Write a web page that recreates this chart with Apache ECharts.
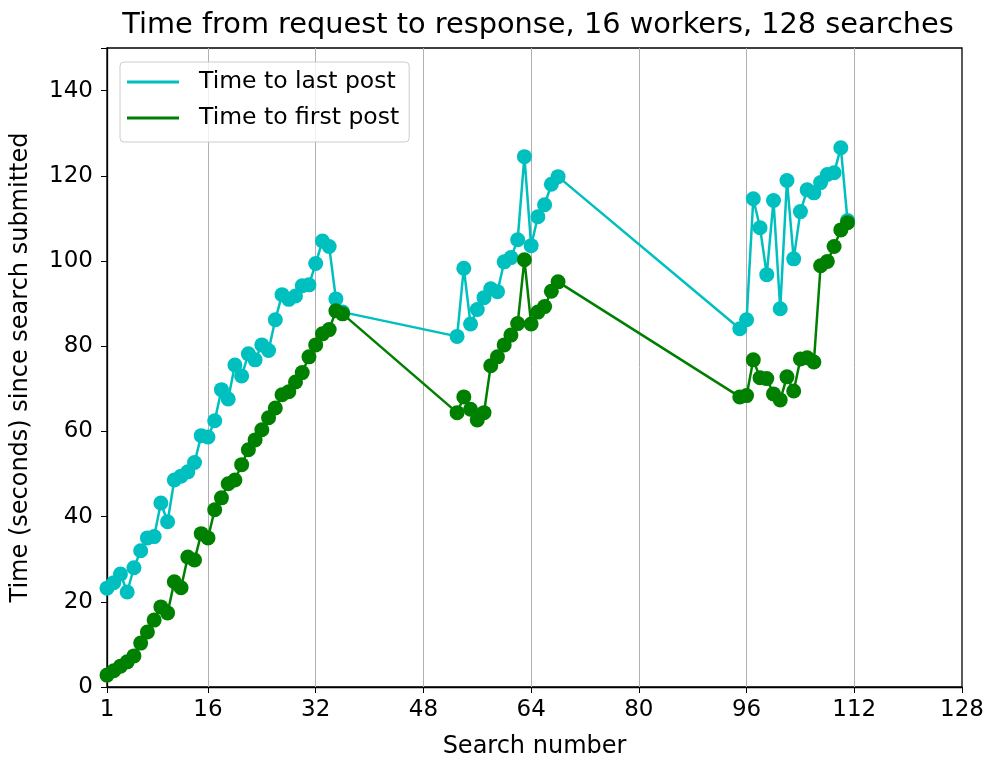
<!DOCTYPE html>
<html>
<head>
<meta charset="utf-8">
<script src="https://cdn.jsdelivr.net/npm/echarts@6/dist/echarts.min.js"></script>
<style>
  html, body { margin: 0; padding: 0; background: #fff; }
  #chart { width: 988px; height: 761px; }
</style>
</head>
<body>
<div id="chart"></div>
<script>
// Search numbers that produced a result, in three batches
const searchNumbers = [
  1, 2, 3, 4, 5, 6, 7, 8, 9, 10, 11, 12, 13, 14, 15, 16, 17, 18,
  19, 20, 21, 22, 23, 24, 25, 26, 27, 28, 29, 30, 31, 32, 33, 34, 35, 36,
  53, 54, 55, 56, 57, 58, 59, 60, 61, 62, 63, 64, 65, 66, 67, 68,
  95, 96, 97, 98, 99, 100, 101, 102, 103, 104, 105, 106, 107, 108, 109, 110, 111
];

// Seconds from submission until the last post arrived
const lastPost = [
  23.2, 24.5, 26.5, 22.3, 28.0, 32.0, 35.0, 35.3, 43.2, 38.8, 48.6, 49.5,
  50.5, 52.7, 59.0, 58.7, 62.5, 69.8, 67.6, 75.6, 73.0, 78.2, 76.8, 80.3,
  79.0, 86.2, 92.1, 91.0, 91.8, 94.2, 94.4, 99.4, 104.7, 103.4, 91.1, 88.0,
  82.3, 98.3, 85.2, 88.6, 91.4, 93.5, 92.8, 99.8, 100.8, 105.0, 124.5, 103.6,
  110.4, 113.2, 118.0, 119.8,
  84.1, 86.2, 114.6, 107.8, 96.8, 114.2, 88.8, 118.9, 100.5, 111.6, 116.7,
  116.0, 118.4, 120.3, 120.7, 126.6, 109.5
];

// Seconds from submission until the first post arrived
const firstPost = [
  2.8, 3.8, 4.9, 5.9, 7.3, 10.3, 12.9, 15.7, 18.8, 17.4, 24.7, 23.3,
  30.5, 29.8, 36.0, 35.0, 41.6, 44.4, 47.7, 48.6, 52.2, 55.7, 58.0, 60.4,
  63.2, 65.5, 68.6, 69.3, 71.6, 73.8, 77.5, 80.3, 82.9, 83.9, 88.3, 87.6,
  64.4, 68.1, 65.2, 62.7, 64.4, 75.4, 77.5, 80.3, 82.6, 85.3, 100.3, 85.2,
  88.0, 89.3, 92.9, 95.1,
  68.1, 68.4, 76.8, 72.6, 72.4, 68.8, 67.4, 72.8, 69.5, 77.0, 77.3,
  76.3, 98.9, 99.9, 103.4, 107.3, 109.0
];

const xTicks = [1, 16, 32, 48, 64, 80, 96, 112, 128];
const xGridLines = [16, 32, 48, 64, 80, 96, 112];

const FONT = 'DejaVu Sans';
const CYAN = '#00bfbf';
const GREEN = '#008000';

const pairs = (xs, ys) => xs.map((x, i) => [x, ys[i]]);

const chart = echarts.init(document.getElementById('chart'), null, { renderer: 'canvas' });

chart.setOption({
  animation: false,
  backgroundColor: '#ffffff',
  textStyle: { fontFamily: FONT },
  title: {
    text: 'Time from request to response, 16 workers, 128 searches',
    left: 533,
    textAlign: 'center',
    top: 6,
    textStyle: { fontFamily: FONT, fontSize: 28.8, fontWeight: 'normal', color: '#000' }
  },
  legend: {
    left: 120,
    top: 62,
    orient: 'vertical',
    data: [
      { name: 'Time to last post', icon: 'rect' },
      { name: 'Time to first post', icon: 'rect' }
    ],
    itemWidth: 52,
    itemHeight: 3,
    itemGap: 12,
    padding: [8, 10, 12, 7],
    backgroundColor: 'rgba(255,255,255,0.8)',
    borderColor: '#cccccc',
    borderWidth: 1,
    borderRadius: 4,
    textStyle: { fontFamily: FONT, fontSize: 23.5, color: '#000', padding: [0, 0, 0, 15] }
  },
  grid: {
    left: 107,
    right: 26,
    top: 48,
    bottom: 74,
    outerBoundsMode: 'none',
    show: true,
    borderColor: '#000',
    borderWidth: 1.3,
    backgroundColor: 'transparent'
  },
  xAxis: {
    type: 'value',
    min: 1,
    max: 128,
    name: 'Search number',
    nameLocation: 'middle',
    nameGap: 48,
    nameTextStyle: { fontFamily: FONT, fontSize: 24, color: '#000' },
    axisLine: { show: true, onZero: false, lineStyle: { color: '#000', width: 1.3 } },
    axisTick: { show: true, length: 6, inside: false, customValues: xTicks, lineStyle: { color: '#000' } },
    axisLabel: { customValues: xTicks, fontFamily: FONT, fontSize: 23, color: '#000', margin: 12 },
    splitLine: { show: false }
  },
  yAxis: {
    type: 'value',
    min: 0,
    max: 150,
    interval: 20,
    name: 'Time (seconds) since search submitted',
    nameLocation: 'middle',
    nameGap: 74,
    nameTextStyle: { fontFamily: FONT, fontSize: 24, color: '#000' },
    axisLine: { show: true, lineStyle: { color: '#000', width: 1.3 } },
    axisTick: { show: true, length: 6, lineStyle: { color: '#000' } },
    axisLabel: {
      fontFamily: FONT, fontSize: 23, color: '#000', margin: 14,
      formatter: v => (v % 20 === 0 && v <= 140 ? String(v) : '')
    },
    splitLine: { show: false }
  },
  series: [
    {
      name: 'Time to last post',
      type: 'line',
      data: pairs(searchNumbers, lastPost),
      symbol: 'circle',
      symbolSize: 15,
      itemStyle: { color: CYAN },
      lineStyle: { color: CYAN, width: 2.5 },
      z: 3,
      markLine: {
        silent: true,
        symbol: 'none',
        label: { show: false },
        lineStyle: { color: '#b0b0b0', width: 1, type: 'solid' },
        data: xGridLines.map(v => ({ xAxis: v })),
        z: 1
      }
    },
    {
      name: 'Time to first post',
      type: 'line',
      data: pairs(searchNumbers, firstPost),
      symbol: 'circle',
      symbolSize: 15,
      itemStyle: { color: GREEN },
      lineStyle: { color: GREEN, width: 2.5 },
      z: 4
    }
  ]
});
</script>
</body>
</html>
